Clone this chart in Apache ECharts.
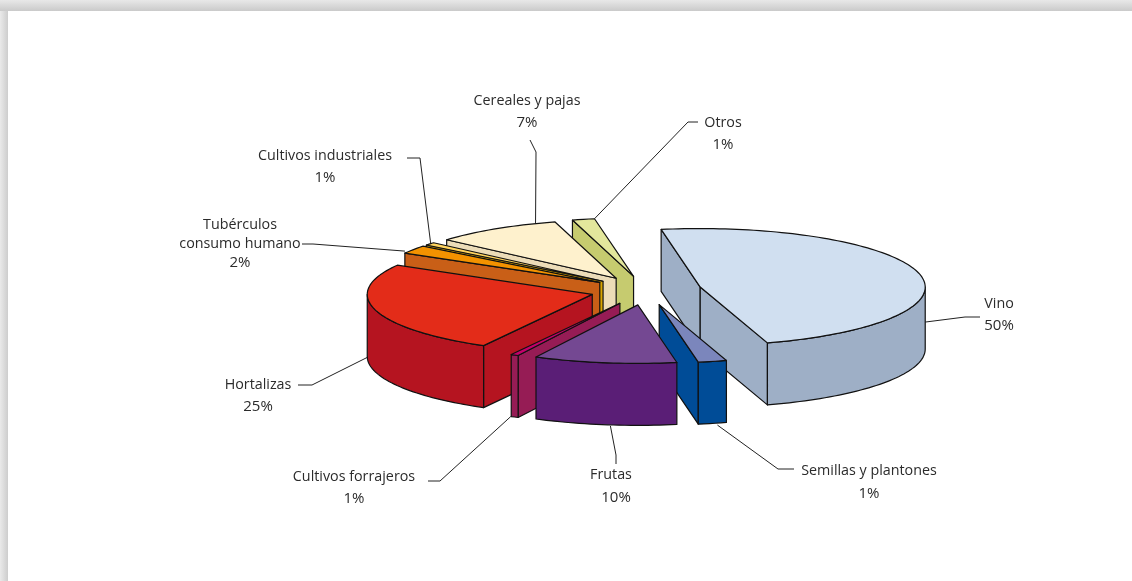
<!DOCTYPE html>
<html>
<head>
<meta charset="utf-8">
<style>html,body{margin:0;padding:0;background:#fff}#c{width:1132px;height:581px}</style>
<script src="https://cdn.jsdelivr.net/npm/echarts@6/dist/echarts.min.js"></script>
</head>
<body>
<div id="c"></div>
<script>
// Data, clockwise on screen
var categories = ['Vino', 'Semillas y plantones', 'Frutas', 'Cultivos forrajeros', 'Hortalizas', 'Tubérculos\nconsumo humano', 'Cultivos industriales', 'Cereales y pajas', 'Otros'];
var printedPercent = [50, 1, 10, 1, 25, 2, 1, 7, 1];
// slice sizes (they differ slightly from the printed percentages)
var drawnShare = [47.95, 2.05, 10.25, 0.55, 25.3, 2.3, 0.8, 9.2, 1.6];

// Styles
var topColors  = ['#d0dff0', '#7b86bc', '#744892', '#c5006b', '#e32c19', '#f39200', '#ffd45f', '#fef1cd', '#e3e79c'];
var sideColors = ['#9eafc6', '#004c97', '#5a1e76', '#961c55', '#b51420', '#c95f17', '#d9a400', '#ecdcb8', '#c6cb6f'];

// Pie projection
var pie = {cx: 646, cy: 290.5, rx: 225, ry: 58.5, depth: 62, explode: 0.248, startDeg: -100};

// Label layout: text centre, percent offset, leader elbows, leader anchor on the slice rim (angle, drop below top face)
var labelLayout = [
  {x: 999, y: 304, gap: 22, pctDx: 0, elbows: [[980, 317], [965, 317]], rimDeg: 0, drop: 35},
  {x: 869, y: 471, gap: 23, pctDx: 0, elbows: [[794, 469], [778, 469]], rimDeg: 75, drop: 64},
  {x: 611, y: 475, gap: 23, pctDx: 5, elbows: [[616, 464], [616, 455]], rimDeg: 97, drop: 63},
  {x: 354, y: 477, gap: 22, pctDx: 0, elbows: [[428, 481], [440, 481]], rimDeg: 119, drop: 62},
  {x: 258, y: 385, gap: 22, pctDx: 0, elbows: [[298, 385], [312, 385]], rimDeg: 180, drop: 63},
  {x: 240, y: 225, gap: 19, pctDx: 0, elbows: [[302, 244], [313, 244]], rimDeg: 210, drop: -2},
  {x: 325, y: 156, gap: 22, pctDx: 0, elbows: [[407, 158], [420, 158]], rimDeg: 220, drop: 0},
  {x: 527, y: 101, gap: 22, pctDx: 0, elbows: [[530, 140], [536, 152]], rimDeg: 249, drop: 0},
  {x: 723, y: 123, gap: 22, pctDx: 0, elbows: [[698, 122], [688, 122]], rimDeg: 260, drop: 0}
];

function rad(d) { return d * Math.PI / 180; }

// Slice angles from shares
var total = drawnShare.reduce(function (a, b) { return a + b; }, 0);
var slices = [], acc = pie.startDeg;
drawnShare.forEach(function (v, i) {
  var sweep = v / total * 360, mid = acc + sweep / 2;
  slices.push({
    index: i, start: acc, end: acc + sweep, mid: mid,
    ax: pie.cx + pie.explode * pie.rx * Math.cos(rad(mid)),
    ay: pie.cy + pie.explode * pie.ry * Math.sin(rad(mid))
  });
  acc += sweep;
});
// paint back to front
var paintOrder = slices.slice().sort(function (a, b) { return Math.sin(rad(a.mid)) - Math.sin(rad(b.mid)); });

function rim(s, deg) {
  return [s.ax + pie.rx * Math.cos(rad(deg)), s.ay + pie.ry * Math.sin(rad(deg))];
}
function arc(s, a, b) {
  var n = Math.max(2, Math.ceil(Math.abs(b - a) / 1.5)), pts = [];
  for (var k = 0; k <= n; k++) pts.push(rim(s, a + (b - a) * k / n));
  return pts;
}
function drop(p) { return [p[0], p[1] + pie.depth]; }

function poly(points, fill) {
  return {type: 'polygon', shape: {points: points}, silent: true,
    style: {fill: fill, stroke: '#111', lineWidth: 1.2, lineJoin: 'round'}};
}

function renderSlice(params, api) {
  var s = paintOrder[api.value(0)];
  var top = topColors[s.index], side = sideColors[s.index];
  var A = [s.ax, s.ay], P = rim(s, s.start), Q = rim(s, s.end);
  var children = [];
  // radial cut faces, only when they face the viewer
  if (Math.sin(rad(s.start - 90)) > 0) children.push(poly([A, P, drop(P), drop(A)], side));
  if (Math.sin(rad(s.end + 90)) > 0) children.push(poly([A, Q, drop(Q), drop(A)], side));
  // outer wall: only its front-facing part
  var ranges = [[s.start, s.end], [s.start + 360, s.end + 360], [s.start - 360, s.end - 360]];
  ranges.forEach(function (r) {
    var a = Math.max(r[0], 0), b = Math.min(r[1], 180);
    if (b > a) {
      var up = arc(s, a, b);
      children.push(poly(up.concat(up.slice().reverse().map(drop)), side));
    }
  });
  // top face
  children.push(poly([A].concat(arc(s, s.start, s.end)), top));
  return {type: 'group', children: children};
}

function renderLabel(params, api) {
  var i = api.value(0), L = labelLayout[i], s = slices[i];
  var children = [];
  var names = categories[i].split('\n');
  names.forEach(function (t, k) {
    children.push({type: 'text', silent: true, x: L.x, y: L.y + k * L.gap,
      style: {text: t, fill: '#2b2b2b', font: '14.3px "Open Sans"', align: 'center', verticalAlign: 'middle'}});
  });
  children.push({type: 'text', silent: true, x: L.x + L.pctDx, y: L.y + names.length * L.gap,
    style: {text: printedPercent[i] + '%', fill: '#2b2b2b', font: '15px "Open Sans"', align: 'center', verticalAlign: 'middle'}});
  var anchor = rim(s, L.rimDeg);
  anchor = [anchor[0], anchor[1] + L.drop];
  children.push({type: 'polyline', silent: true, shape: {points: L.elbows.concat([anchor])},
    style: {stroke: '#222', lineWidth: 1, fill: null}});
  return {type: 'group', children: children};
}

function vGrad(a, b) { return {type: 'linear', x: 0, y: 0, x2: 0, y2: 1, colorStops: [{offset: 0, color: a}, {offset: 1, color: b}]}; }
function hGrad(a, b) { return {type: 'linear', x: 0, y: 0, x2: 1, y2: 0, colorStops: [{offset: 0, color: a}, {offset: 1, color: b}]}; }

var chart = echarts.init(document.getElementById('c'), null, {renderer: 'canvas'});
chart.setOption({
  animation: false,
  backgroundColor: '#ffffff',
  graphic: [
    {type: 'rect', silent: true, z: 0, shape: {x: 0, y: 0, width: 8, height: 581}, style: {fill: hGrad('#eaeaea', '#cdcdcd')}},
    {type: 'rect', silent: true, z: 0, shape: {x: 0, y: 0, width: 1132, height: 11}, style: {fill: vGrad('#e8e8e8', '#cacaca')}}
  ],
  series: [
    {type: 'custom', coordinateSystem: 'none', silent: true, z: 2, clip: false,
     renderItem: renderSlice,
     data: paintOrder.map(function (s, k) { return {name: categories[s.index], value: [k, drawnShare[s.index]]}; })},
    {type: 'custom', coordinateSystem: 'none', silent: true, z: 1, clip: false,
     renderItem: renderLabel,
     data: categories.map(function (c, i) { return {name: c, value: [i, printedPercent[i]]}; })}
  ]
});
</script>
</body>
</html>
